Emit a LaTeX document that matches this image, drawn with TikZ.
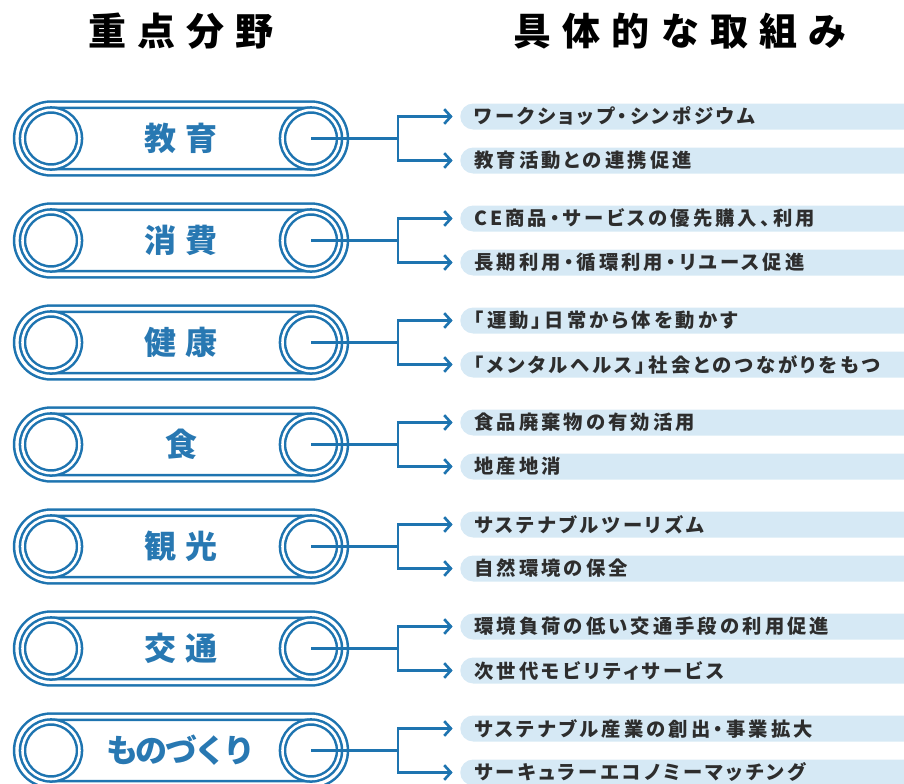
\documentclass[tikz,border=0pt]{standalone}
\usepackage{fontspec}
\usetikzlibrary{arrows.meta}
\newfontfamily\jpfont{Noto Sans CJK JP}
\newfontfamily\itemfont[LetterSpace=16,RawFeature=+palt]{Noto Sans CJK JP}
\definecolor{beltblue}{RGB}{30,116,176}
\definecolor{labelblue}{RGB}{40,120,178}
\definecolor{itembg}{RGB}{214,233,245}
\definecolor{itemtext}{RGB}{45,45,45}
\tikzset{
  belt/.style={draw=beltblue, line width=1.9pt, double=white, double distance=2.9pt,
    rounded corners=25.3pt, minimum width=245.6pt, minimum height=50.6pt, inner sep=0pt,
    text=labelblue, font=\jpfont\bfseries\fontsize{24pt}{28pt}\selectfont},
  pulley/.style={circle, draw=beltblue, fill=white, line width=1.9pt, double=white,
    double distance=1.9pt, minimum size=42.75pt, inner sep=0pt},
  item/.style={anchor=west, fill=itembg, rounded corners=9.75pt, minimum height=19.5pt,
    inner xsep=10.5pt, inner ysep=0pt, text width=330pt, align=left, text=itemtext,
    font=\itemfont\bfseries\fontsize{14.5pt}{17pt}\selectfont},
  link/.style={draw=beltblue, line width=2pt},
  title/.style={font=\jpfont\bfseries\addfontfeatures{LetterSpace=29}\fontsize{28.5pt}{32pt}\selectfont}
}
\begin{document}
\begin{tikzpicture}[x=0.75pt,y=-0.75pt]
    \useasboundingbox (0,0) rectangle (904,783);
    \node[title] (fields) at (181,31) {重点分野};
    \node[title] (actions) at (680,31) {具体的な取組み};
    \foreach \i/\name/\sp/\first/\second in {
        0/教育/30/ワークショップ・シンポジウム/教育活動との連携促進,
        1/消費/30/CE商品・サービスの優先購入、利用/長期利用・循環利用・リユース促進,
        2/健康/30/「運動」日常から体を動かす/「メンタルヘルス」社会とのつながりをもつ,
        3/食/0/食品廃棄物の有効活用/地産地消,
        4/観光/30/サステナブルツーリズム/自然環境の保全,
        5/交通/30/環境負荷の低い交通手段の利用促進/次世代モビリティサービス,
        6/ものづくり/-8/サステナブル産業の創出・事業拡大/サーキュラーエコノミーマッチング}
        {
            \pgfmathsetmacro{\y}{138.5+102*\i}
            \node[belt] (belt\i) at (181,\y) {\addfontfeatures{LetterSpace=\sp}\name};
            \node[pulley] (lp\i) at (51,\y) {};
            \node[pulley] (rp\i) at (311,\y) {};
            \coordinate (fork\i) at (398,\y);
            \node[item] (top\i) at (460,\y-22) {\first};
            \node[item] (bot\i) at (460,\y+22) {\second};
            \draw[link] (rp\i.center) -- (fork\i);
            \draw[link,-{Straight Barb[length=5pt,width=11pt]}] (fork\i) |- ([xshift=-5.5pt]top\i.west);
            \draw[link,-{Straight Barb[length=5pt,width=11pt]}] (fork\i) |- ([xshift=-5.5pt]bot\i.west);
        }
\end{tikzpicture}
\end{document}
